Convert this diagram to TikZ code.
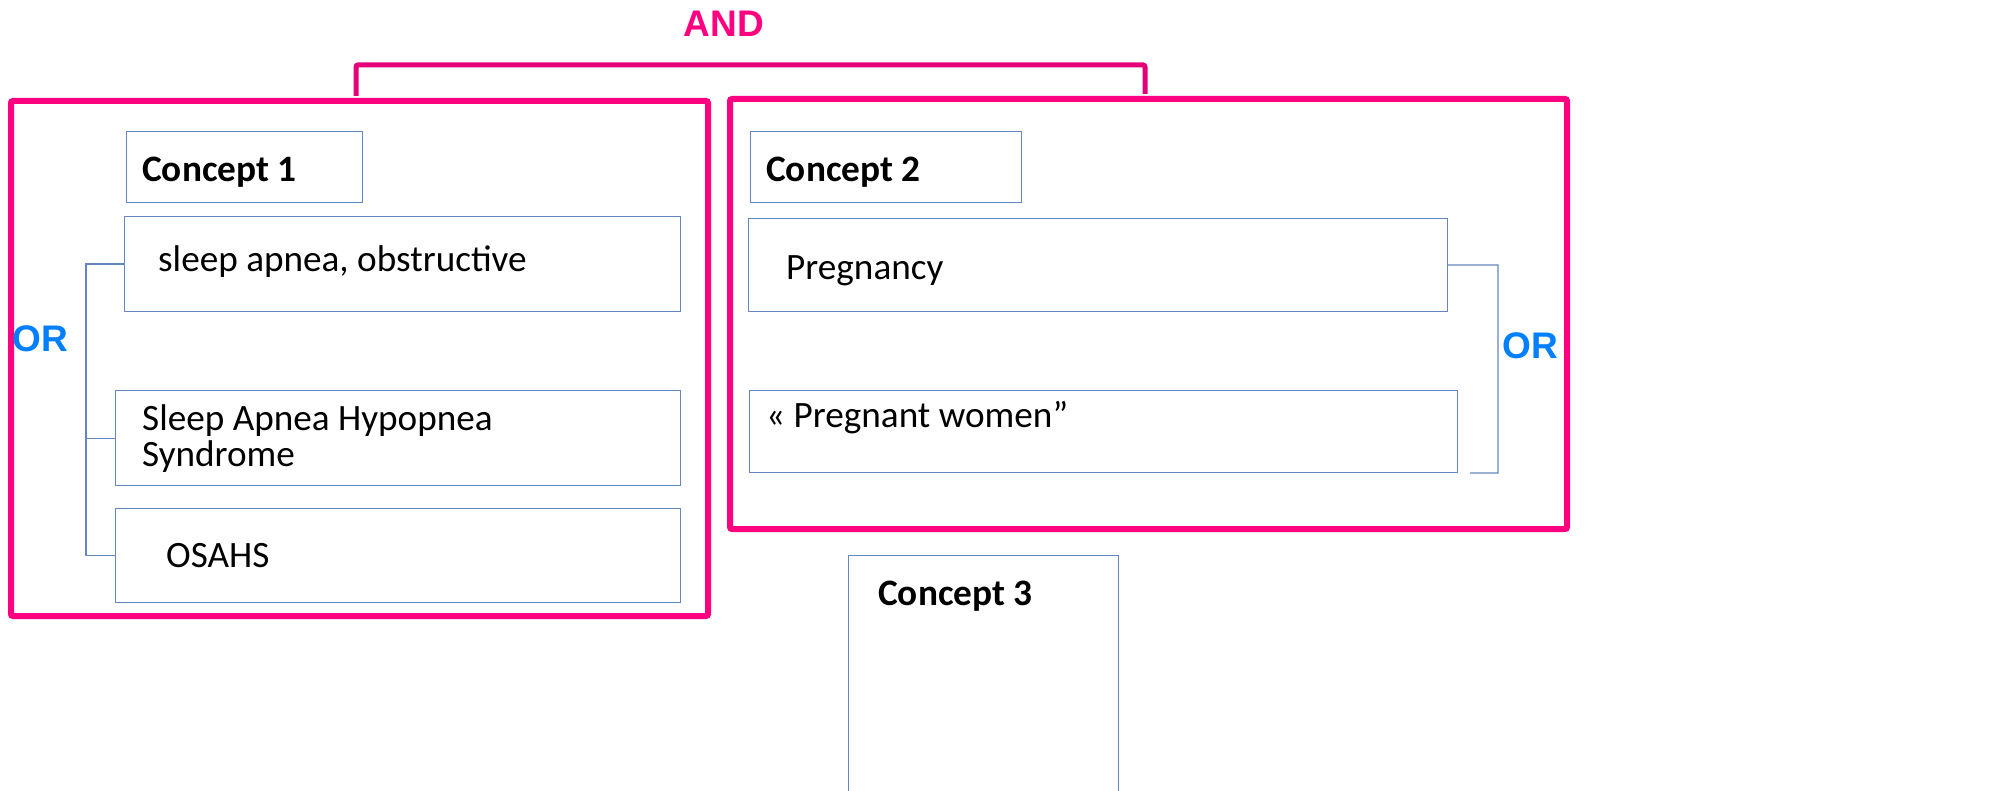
\documentclass[tikz,border=0pt]{standalone}
\usepackage{fontspec}
\setmainfont{Carlito}
\newfontfamily\opfont{Liberation Sans}
\definecolor{pinkc}{RGB}{255,0,128}
\definecolor{pinkd}{RGB}{228,0,120}
\definecolor{boxblue}{RGB}{100,135,195}
\definecolor{orblue}{RGB}{0,128,255}
\tikzset{
  groupbox/.style={draw=pinkc, line width=6pt, rounded corners=2pt, rectangle, anchor=north west, inner sep=0pt},
  termbox/.style={draw=boxblue, line width=1.2pt, rectangle, anchor=north west, inner sep=0pt},
  conn/.style={draw=boxblue, line width=1.2pt},
  andline/.style={draw=pinkd, line width=5pt, rounded corners=2pt},
  termtext/.style={anchor=base west, inner sep=0pt, font=\fontsize{37.2}{44}\selectfont},
  headtext/.style={anchor=base west, inner sep=0pt, font=\fontsize{37.3}{44}\selectfont\bfseries},
  optext/.style={inner sep=0pt, font=\fontsize{37}{40}\selectfont\opfont\bfseries}
}
\begin{document}
\begin{tikzpicture}[x=1pt,y=-1pt]
\clip (0,0) rectangle (2013,791);
\fill[white] (0,0) rectangle (2013,791);
% group boxes
\node[groupbox, minimum width=697pt, minimum height=515pt] (g1) at (8,98) {};
\node[groupbox, minimum width=837pt, minimum height=430pt] (g2) at (727,96) {};
% AND
\node[optext, text=pinkc] (and) at (724,24) {AND};
\coordinate (a1) at (356,96);
\coordinate (a2) at (1145,94);
\draw[andline] (a1) -- (356,65) -- (1145,65) -- (a2);
% concept 1
\node[termbox, minimum width=236pt, minimum height=71pt] (c1) at (126,131) {};
\node[headtext] (c1t) at (142,182) {Concept 1};
\node[termbox, minimum width=556pt, minimum height=95pt] (t1) at (124,216) {};
\node[termtext] (t1t) at (158,272) {sleep apnea, obstructive};
\node[termbox, minimum width=565pt, minimum height=95pt] (t2) at (115,390) {};
\node[termtext] (t2t) at (142,430) {Sleep Apnea Hypopnea};
\node[termtext] (t2u) at (142,466) {Syndrome};
\node[termbox, minimum width=565pt, minimum height=94pt] (t3) at (115,508) {};
\node[termtext] (t3t) at (166,567) {OSAHS};
\draw[conn] (t1.west) -- ++(-38,0) |- (t3.west);
\draw[conn] (t2.west) -- ++(-29,0);
\node[optext, text=orblue] (or1) at (40,339) {OR};
% concept 2
\node[termbox, minimum width=271pt, minimum height=71pt] (c2) at (750,131) {};
\node[headtext] (c2t) at (766,182) {Concept 2};
\node[termbox, minimum width=699pt, minimum height=93pt] (p1) at (748,218) {};
\node[termtext] (p1t) at (786,280) {Pregnancy};
\node[termbox, minimum width=708pt, minimum height=82pt] (p2) at (749,390) {};
\node[termtext] (p2t) at (766,428) {« Pregnant women”};
\coordinate (pe) at (1470,473);
\draw[conn] (p1.east) -- (1498,265) |- (pe);
\node[optext, text=orblue] (or2) at (1530,346) {OR};
% concept 3
\node[termbox, minimum width=270pt, minimum height=250pt] (c3) at (848,555) {};
\node[headtext] (c3t) at (878,605) {Concept 3};
\end{tikzpicture}
\end{document}
